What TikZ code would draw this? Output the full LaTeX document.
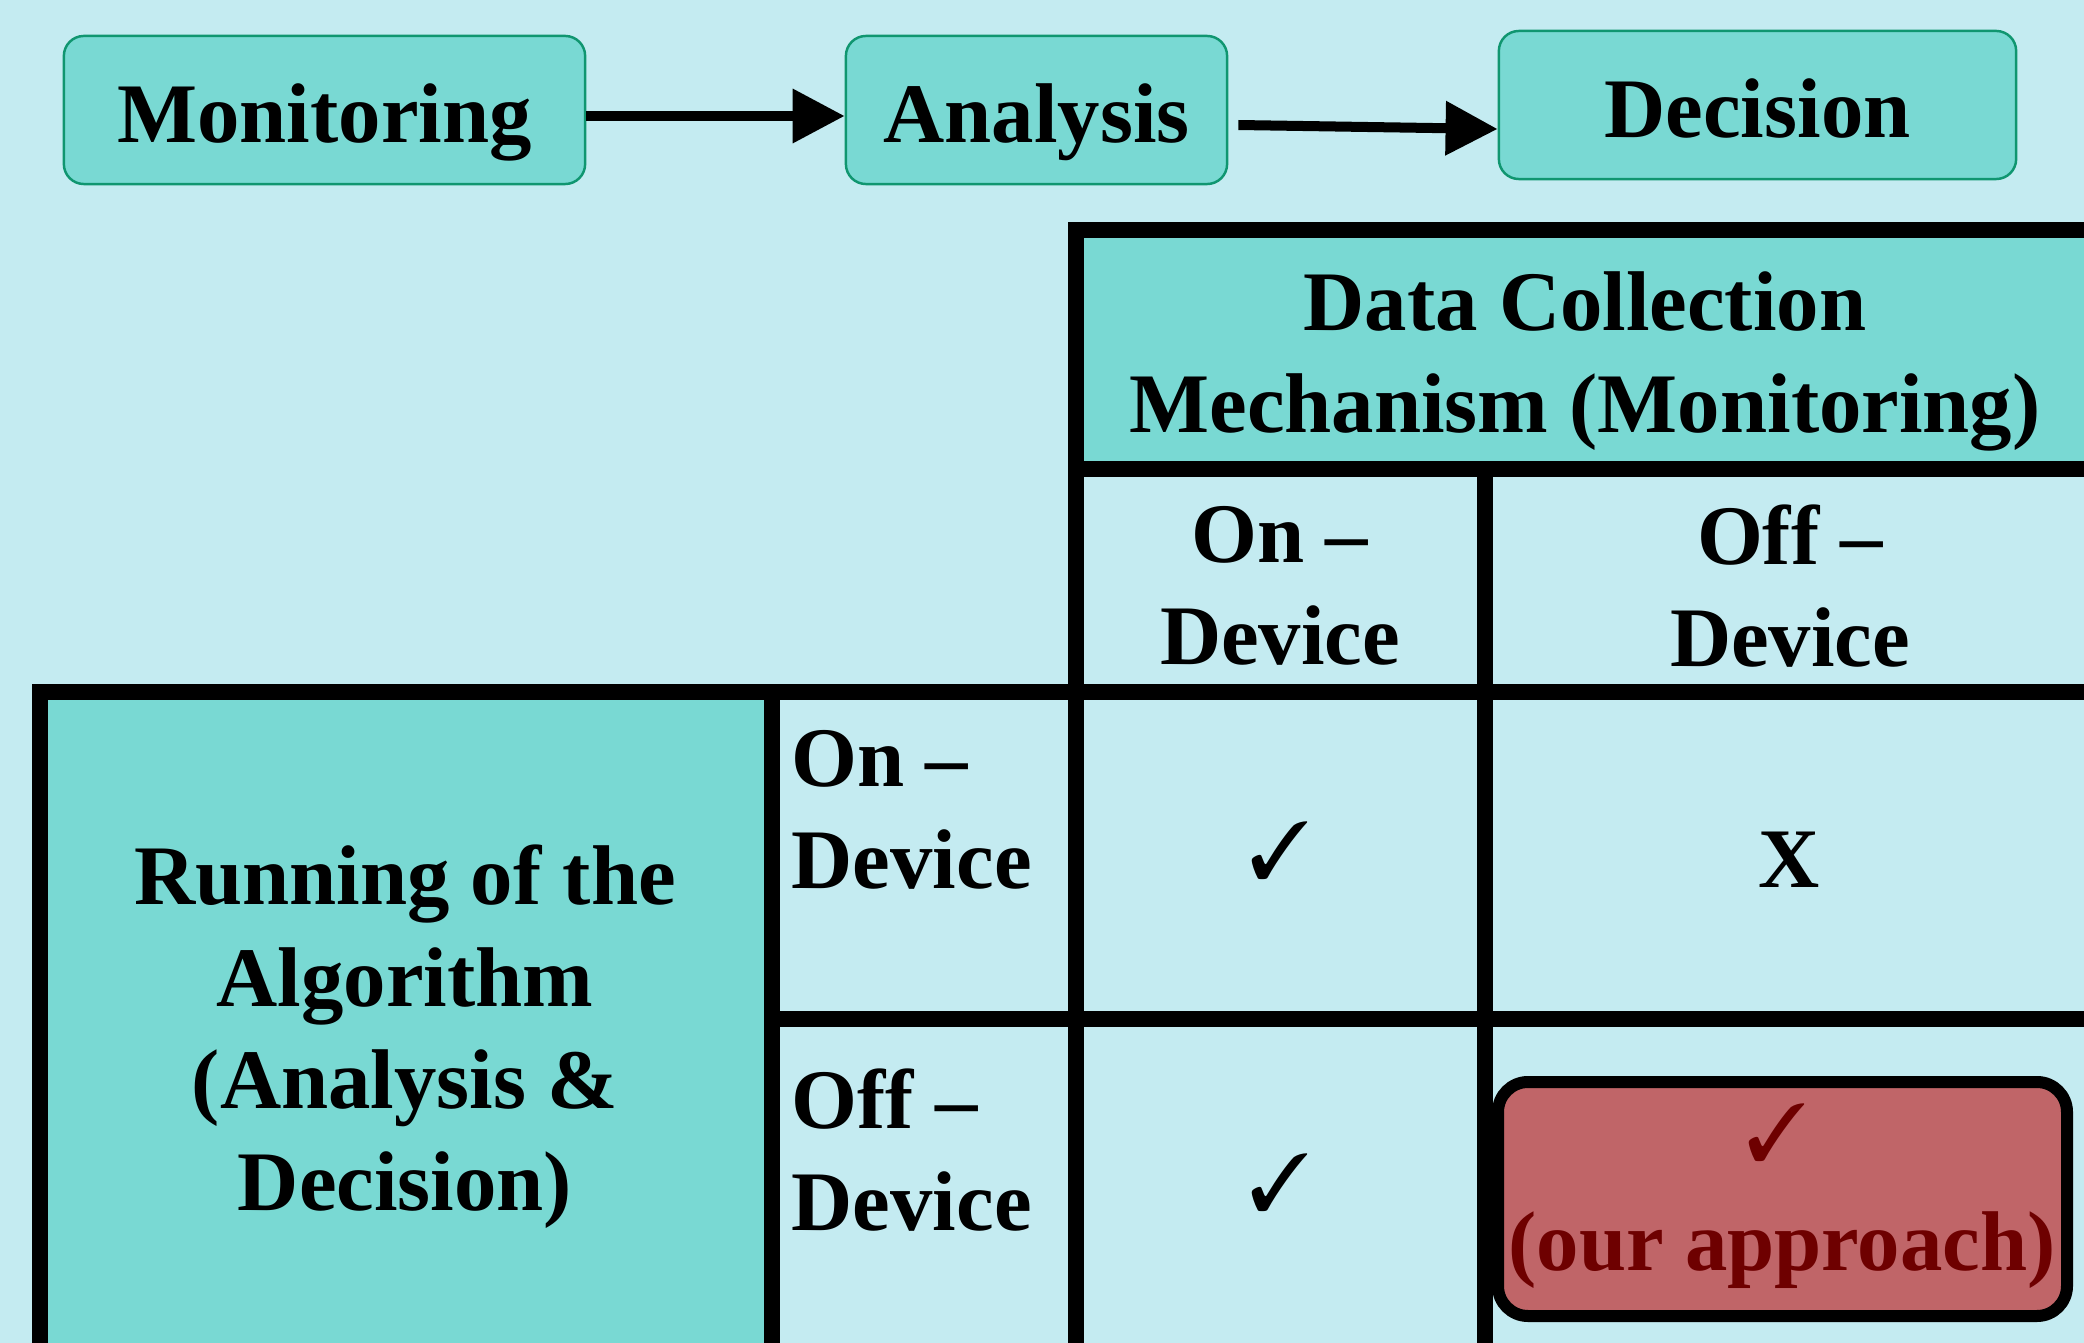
\documentclass[tikz,border=0pt]{standalone}
\usepackage{fontspec}
\setmainfont{Liberation Serif}
\usepackage{pifont}
\usetikzlibrary{arrows.meta}
\definecolor{bgCyan}{RGB}{196,235,241}
\definecolor{tealFill}{RGB}{121,217,211}
\definecolor{boxEdge}{RGB}{16,150,112}
\definecolor{oursFill}{RGB}{192,101,104}
\definecolor{oursText}{RGB}{110,0,0}
\tikzset{>={Triangle[length=0.52cm,width=0.52cm]}}
\tikzset{
  stage/.style={draw=boxEdge, line width=0.7pt, fill=tealFill, rounded corners=0.2cm, minimum height=1.48cm, text height=0.64cm, text depth=0pt},
  cellline/.style={line width=0.16cm},
  flow/.style={->, line width=0.1cm}
}

\begin{document}
\begin{tikzpicture}[x=0.01cm, y=-0.01cm, every node/.style={font=\bfseries\fontsize{24.1pt}{29pt}\selectfont, inner sep=0pt}]
				\clip (0,0) rectangle (2084,1343);
				\fill[bgCyan] (0,0) rectangle (2084,1343);
				% MAPE stages
				\node [stage, minimum width=5.21cm] (mon) at (324.5,110) {Monitoring};
				\node [stage, minimum width=3.81cm] (ana) at (1036.5,110) {Analysis};
				\node [stage, minimum width=5.17cm] (dec) at (1757.5,105) {Decision};
				\draw [flow] ([yshift=-0.06cm]mon.east) -- ([yshift=-0.06cm]ana.west);
				\draw [flow] ([xshift=0.1cm,yshift=-0.15cm]ana.east) -- ([yshift=-0.24cm]dec.west);
				% table
				\fill [tealFill] (1076,230) rectangle (2110,469);
				\fill [tealFill] (40,692) rectangle (772,1400);
				\draw [cellline] (2110,230) -- (1076,230) -- (1076,1400);
				\draw [cellline] (2110,692) -- (40,692) -- (40,1400);
				\draw [cellline] (1076,469) -- (2110,469);
				\draw [cellline] (1485,469) -- (1485,1400);
				\draw [cellline] (772,692) -- (772,1400);
				\draw [cellline] (772,1019) -- (2110,1019);
				%\draw [cellline] (2094,230) -- (2094,1400);
				\node [align=center] (collect) at (1585,361) {Data Collection\\Mechanism (Monitoring)};
				\node [align=center] (colOn) at (1280,586) {On --\\Device};
				\node [align=center] (colOff) at (1790,586) {Off --\\Device};
				\node [align=center] (running) at (405,1037) {Running of the\\Algorithm\\(Analysis \&\\Decision)};
				\node [align=left, anchor=west] (rowOn) at (791,810) {On --\\Device};
				\node [align=left, anchor=west] (rowOff) at (791,1150) {Off --\\Device};
				\node [scale=0.95] (onOn) at (1280,851) {\ding{51}};
				\node (onOff) at (1789,860) {X};
				\node [scale=0.95] (offOn) at (1280,1183) {\ding{51}};
				% our approach
				\draw [line width=0.12cm, fill=oursFill, rounded corners=0.3cm] (1498,1082) rectangle (2067,1316);
				\node [text=oursText, scale=0.95] (oursCheck) at (1777,1133) {\ding{51}};
				\node [text=oursText] (ours) at (1782,1250) {(our approach)};
\end{tikzpicture}
\end{document}
